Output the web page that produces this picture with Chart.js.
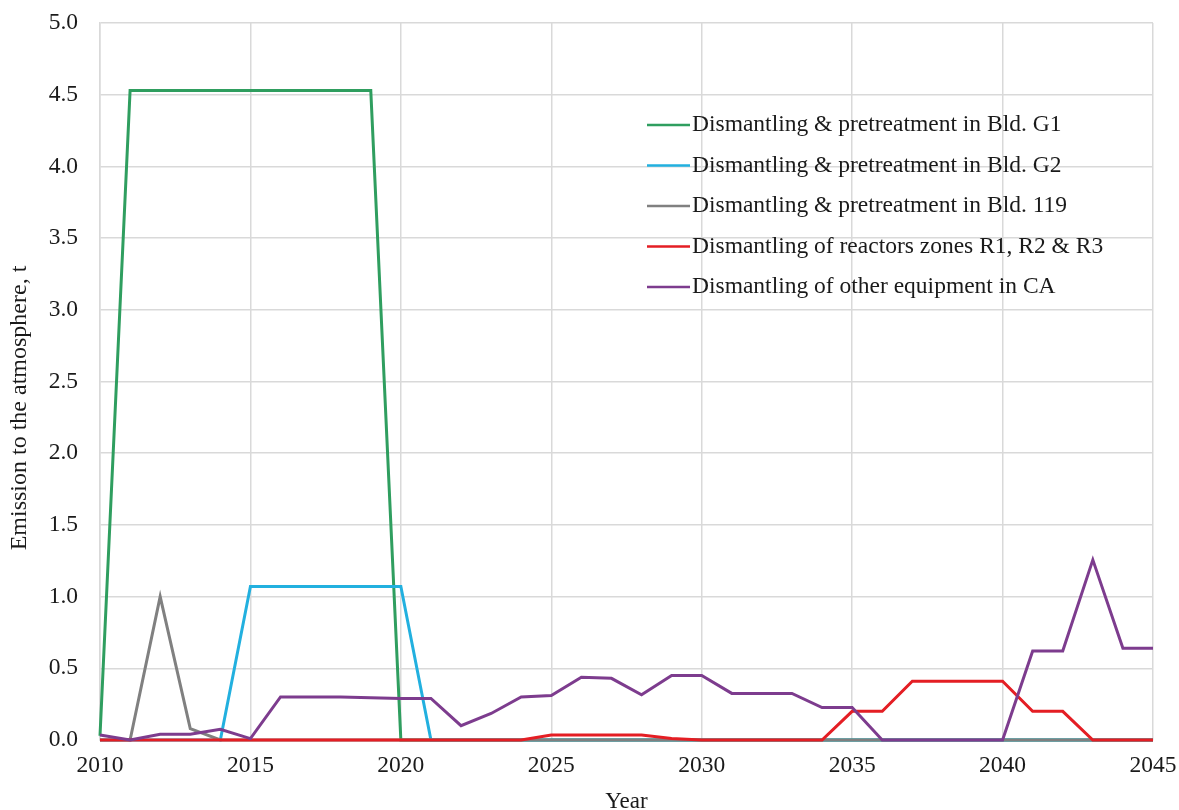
<!DOCTYPE html>
<html>
<head>
<meta charset="utf-8">
<script src="https://cdn.jsdelivr.net/npm/chart.js@4/dist/chart.umd.min.js"></script>
<style>
  html, body { margin: 0; padding: 0; background: #fff; overflow: hidden; }
  #wrap { width: 1179px; height: 810px; }
</style>
</head>
<body>
<div id="wrap"><canvas id="emissionChart"></canvas></div>
<script>
// DATA

const years = [2010, 2011, 2012, 2013, 2014, 2015, 2016, 2017, 2018, 2019,
               2020, 2021, 2022, 2023, 2024, 2025, 2026, 2027, 2028, 2029,
               2030, 2031, 2032, 2033, 2034, 2035, 2036, 2037, 2038, 2039,
               2040, 2041, 2042, 2043, 2044, 2045];

const seriesNames = [
    'Dismantling & pretreatment in Bld. G1',
    'Dismantling & pretreatment in Bld. G2',
    'Dismantling & pretreatment in Bld. 119',
    'Dismantling of reactors zones R1, R2 & R3',
    'Dismantling of other equipment in CA'
];

const bldG1 = [0.03, 4.53, 4.53, 4.53, 4.53, 4.53, 4.53, 4.53, 4.53, 4.53,
               0, 0, 0, 0, 0, 0, 0, 0, 0, 0,
               0, 0, 0, 0, 0, 0, 0, 0, 0, 0,
               0, 0, 0, 0, 0, 0];

const bldG2 = [0, 0, 0, 0, 0, 1.07, 1.07, 1.07, 1.07, 1.07,
               1.07, 0, 0, 0, 0, 0, 0, 0, 0, 0,
               0, 0, 0, 0, 0, 0, 0, 0, 0, 0,
               0, 0, 0, 0, 0, 0];

const bld119 = [0, 0, 1.0, 0.08, 0, 0, 0, 0, 0, 0,
                0, 0, 0, 0, 0, 0, 0, 0, 0, 0,
                0, 0, 0, 0, 0, 0, 0, 0, 0, 0,
                0, 0, 0, 0, 0, 0];

const reactors = [0, 0, 0, 0, 0, 0, 0, 0, 0, 0,
                  0, 0, 0, 0, 0, 0.035, 0.035, 0.035, 0.035, 0.01,
                  0, 0, 0, 0, 0, 0.2, 0.2, 0.41, 0.41, 0.41,
                  0.41, 0.2, 0.2, 0, 0, 0];

const otherCA = [0.035, 0, 0.04, 0.04, 0.075, 0.01, 0.3, 0.3, 0.3, 0.295,
                 0.29, 0.29, 0.1, 0.185, 0.3, 0.31, 0.437, 0.43, 0.315, 0.45,
                 0.45, 0.325, 0.325, 0.325, 0.226, 0.226, 0, 0, 0, 0,
                 0, 0.62, 0.62, 1.256, 0.64, 0.64];

const yTicks = [0, 0.5, 1, 1.5, 2, 2.5, 3, 3.5, 4, 4.5, 5];
const xTicks = [2010, 2015, 2020, 2025, 2030, 2035, 2040, 2045];

const yTitle = 'Emission to the atmosphere, t';
const xTitle = 'Year';

const allSeries = [bldG1, bldG2, bld119, reactors, otherCA];
const colors = ['#2f9e5f', '#22b0df', '#808080', '#e41e24', '#7d3c8e'];

const FONT = "'Liberation Serif', 'Times New Roman', serif";


// LEGEND INSIDE PLOT + Y TITLE

const extras = {
    id: 'extras',
    afterDraw(chart) {
        const c = chart.ctx;
        c.save();
        c.font = '23.5px ' + FONT;
        c.textBaseline = 'middle';
        chart.data.datasets.forEach((ds, i) => {
            const y = 125 + i * 40.5;
            c.strokeStyle = ds.borderColor;
            c.lineWidth = 2.5;
            c.beginPath();
            c.moveTo(647, y);
            c.lineTo(690, y);
            c.stroke();
            c.fillStyle = '#1a1a1a';
            c.fillText(ds.label, 692, y);
        });

        // y title sits a bit below the axis middle in the original
        c.translate(20, 408);
        c.rotate(-Math.PI / 2);
        c.textAlign = 'center';
        c.font = '24px ' + FONT;
        c.fillText(yTitle, 0, 0);
        c.restore();
    }
};


// CHART

const ctx = document.getElementById('emissionChart');

new Chart(ctx, {
    type: 'line',

    data: {
        datasets: allSeries.map((vals, i) => ({
            label: seriesNames[i],
            data: vals.map((v, k) => ({ x: years[k], y: v })),
            borderColor: colors[i],
            backgroundColor: colors[i],
            borderWidth: 3,
            pointRadius: 0,
            tension: 0,
            clip: false,
            order: allSeries.length - 1 - i
        }))
    },

    options: {
        responsive: true,
        maintainAspectRatio: false,
        animation: false,
        layout: { padding: { left: 0, right: 26, top: 23, bottom: 0 } },

        plugins: {
            legend: { display: false },
            tooltip: { enabled: false }
        },

        scales: {
            x: {
                type: 'linear',
                min: 2010,
                max: 2045,
                afterBuildTicks: axis => { axis.ticks = xTicks.map(v => ({ value: v })); },
                afterFit: axis => {
                    axis.height = 70;
                    axis.paddingLeft = 0;
                    axis.paddingRight = 0;
                },
                ticks: {
                    font: { family: FONT, size: 23.5 },
                    color: '#1a1a1a',
                    padding: 12,
                    maxRotation: 0,
                    callback: v => String(v)
                },
                grid: { color: '#d9d9d9', lineWidth: 1.5, drawTicks: false },
                border: { color: '#d9d9d9', width: 1.5 },
                title: {
                    display: true,
                    text: xTitle,
                    font: { family: FONT, size: 23, lineHeight: 0.7 },
                    color: '#1a1a1a',
                    padding: { top: 0, bottom: 0 }
                }
            },
            y: {
                min: 0,
                max: 5,
                afterBuildTicks: axis => { axis.ticks = yTicks.map(v => ({ value: v })); },
                afterFit: axis => {
                    axis.width = 100;
                    axis.paddingTop = 0;
                    axis.paddingBottom = 0;
                },
                ticks: {
                    font: { family: FONT, size: 23.5 },
                    color: '#1a1a1a',
                    padding: 22,
                    callback: v => v.toFixed(1)
                },
                grid: { color: '#d9d9d9', lineWidth: 1.5, drawTicks: false },
                border: { color: '#d9d9d9', width: 1.5 }
            }
        }
    },

    plugins: [extras]
});
</script>
</body>
</html>
